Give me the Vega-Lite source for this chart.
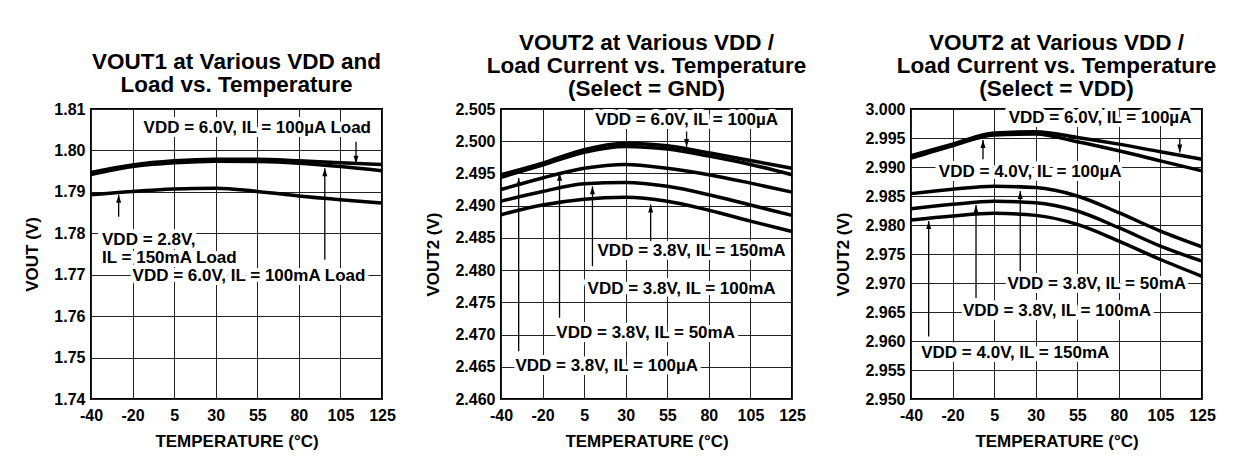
{
  "$schema": "https://vega.github.io/schema/vega-lite/v6.json",
  "padding": {"left": 22, "top": 30, "right": 10, "bottom": 10},
  "background": "white",
  "spacing": 119,
  "bounds": "flush",
  "config": {
    "font": "Liberation Sans",
    "view": {"stroke": "#000", "strokeWidth": 2},
    "axis": {"grid": true, "gridColor": "#222", "gridWidth": 1, "gridOpacity": 1, "domain": false, "ticks": false, "tickCount": 30,
      "labelFont": "Liberation Sans", "labelFontSize": 16, "labelFontWeight": "bold", "labelColor": "#000", "labelFlush": false, "labelOverlap": false,
      "titleFont": "Liberation Sans", "titleFontSize": 17, "titleFontWeight": "bold", "titleColor": "#000"},
    "axisX": {"labelPadding": 8, "titlePadding": 10},
    "axisY": {"labelPadding": 6, "titlePadding": 12},
    "title": {"font": "Liberation Sans", "fontSize": 22.5, "fontWeight": "bold", "color": "#000", "lineHeight": 23, "offset": 1, "anchor": "middle"},
    "text": {"font": "Liberation Sans", "fontSize": 17, "fontWeight": "bold"}
  },
  "datasets": {
    "p1_lines": [
      {"series": "A", "temp": -40, "v": 1.7947}, {"series": "A", "temp": -20, "v": 1.7965}, {"series": "A", "temp": 5, "v": 1.7975}, {"series": "A", "temp": 30, "v": 1.7979}, {"series": "A", "temp": 55, "v": 1.7979}, {"series": "A", "temp": 80, "v": 1.7975}, {"series": "A", "temp": 105, "v": 1.797}, {"series": "A", "temp": 125, "v": 1.7966},
      {"series": "B", "temp": -40, "v": 1.7942}, {"series": "B", "temp": -20, "v": 1.7961}, {"series": "B", "temp": 5, "v": 1.797}, {"series": "B", "temp": 30, "v": 1.7974}, {"series": "B", "temp": 55, "v": 1.7973}, {"series": "B", "temp": 80, "v": 1.7969}, {"series": "B", "temp": 105, "v": 1.7961}, {"series": "B", "temp": 125, "v": 1.7951},
      {"series": "C", "temp": -40, "v": 1.7893}, {"series": "C", "temp": -20, "v": 1.7901}, {"series": "C", "temp": 5, "v": 1.7907}, {"series": "C", "temp": 30, "v": 1.7909}, {"series": "C", "temp": 55, "v": 1.7901}, {"series": "C", "temp": 80, "v": 1.789}, {"series": "C", "temp": 105, "v": 1.7881}, {"series": "C", "temp": 125, "v": 1.7873}
    ],
    "p1_arrows": [
      {"temp": 112.5, "v": 1.8021, "v2": 1.7968, "dir": "down"},
      {"temp": -26.7, "v": 1.7840, "v2": 1.7893, "dir": "up"},
      {"temp": 95.6, "v": 1.7736, "v2": 1.7957, "dir": "up"}
    ],
    "p1_text": [
      {"temp": 55, "v": 1.8053, "label": "VDD = 6.0V, IL = 100µA Load", "align": "center"},
      {"temp": 50, "v": 1.7697, "label": "VDD = 6.0V, IL = 100mA Load", "align": "center"},
      {"temp": -34.7, "v": 1.7783, "label": "VDD = 2.8V,\nIL = 150mA Load", "align": "left"}
    ],
    "p2_lines": [
      {"series": "A", "temp": -40, "v": 2.4948}, {"series": "A", "temp": -20, "v": 2.4966}, {"series": "A", "temp": 5, "v": 2.4987}, {"series": "A", "temp": 30, "v": 2.4997}, {"series": "A", "temp": 55, "v": 2.4993}, {"series": "A", "temp": 80, "v": 2.4982}, {"series": "A", "temp": 105, "v": 2.497}, {"series": "A", "temp": 125, "v": 2.4958},
      {"series": "B", "temp": -40, "v": 2.4944}, {"series": "B", "temp": -20, "v": 2.4963}, {"series": "B", "temp": 5, "v": 2.4983}, {"series": "B", "temp": 30, "v": 2.4992}, {"series": "B", "temp": 55, "v": 2.4988}, {"series": "B", "temp": 80, "v": 2.4977}, {"series": "B", "temp": 105, "v": 2.4964}, {"series": "B", "temp": 125, "v": 2.4948},
      {"series": "C", "temp": -40, "v": 2.4925}, {"series": "C", "temp": -20, "v": 2.4943}, {"series": "C", "temp": 5, "v": 2.4958}, {"series": "C", "temp": 30, "v": 2.4964}, {"series": "C", "temp": 55, "v": 2.4958}, {"series": "C", "temp": 80, "v": 2.4948}, {"series": "C", "temp": 105, "v": 2.4935}, {"series": "C", "temp": 125, "v": 2.4921},
      {"series": "D", "temp": -40, "v": 2.4907}, {"series": "D", "temp": -20, "v": 2.4922}, {"series": "D", "temp": 5, "v": 2.4934}, {"series": "D", "temp": 30, "v": 2.4936}, {"series": "D", "temp": 55, "v": 2.493}, {"series": "D", "temp": 80, "v": 2.4917}, {"series": "D", "temp": 105, "v": 2.4901}, {"series": "D", "temp": 125, "v": 2.4885},
      {"series": "E", "temp": -40, "v": 2.4886}, {"series": "E", "temp": -20, "v": 2.4901}, {"series": "E", "temp": 5, "v": 2.491}, {"series": "E", "temp": 30, "v": 2.4913}, {"series": "E", "temp": 55, "v": 2.4907}, {"series": "E", "temp": 80, "v": 2.4893}, {"series": "E", "temp": 105, "v": 2.4876}, {"series": "E", "temp": 125, "v": 2.486}
    ],
    "p2_arrows": [
      {"temp": 66.6, "v": 2.5019, "v2": 2.4991, "dir": "down"},
      {"temp": 45, "v": 2.4845, "v2": 2.4902, "dir": "up"},
      {"temp": 10, "v": 2.4806, "v2": 2.493, "dir": "up"},
      {"temp": -9.8, "v": 2.4726, "v2": 2.4951, "dir": "up"},
      {"temp": -31.5, "v": 2.4674, "v2": 2.4943, "dir": "up"}
    ],
    "p2_text": [
      {"temp": 66.6, "v": 2.5033, "label": "VDD = 6.0V,  IL = 100µA"},
      {"temp": 69.6, "v": 2.4829, "label": "VDD = 3.8V, IL = 150mA"},
      {"temp": 63.6, "v": 2.477, "label": "VDD = 3.8V, IL = 100mA"},
      {"temp": 42, "v": 2.4703, "label": "VDD = 3.8V, IL = 50mA"},
      {"temp": 18.6, "v": 2.4651, "label": "VDD = 3.8V, IL = 100µA"}
    ],
    "p3_lines": [
      {"series": "A", "temp": -40, "v": 2.99193}, {"series": "A", "temp": -20, "v": 2.99394}, {"series": "A", "temp": 5, "v": 2.99585}, {"series": "A", "temp": 30, "v": 2.99608}, {"series": "A", "temp": 55, "v": 2.9951}, {"series": "A", "temp": 80, "v": 2.99394}, {"series": "A", "temp": 105, "v": 2.99262}, {"series": "A", "temp": 125, "v": 2.99135},
      {"series": "B", "temp": -40, "v": 2.99152}, {"series": "B", "temp": -20, "v": 2.99366}, {"series": "B", "temp": 5, "v": 2.9955}, {"series": "B", "temp": 30, "v": 2.99567}, {"series": "B", "temp": 55, "v": 2.99435}, {"series": "B", "temp": 80, "v": 2.99279}, {"series": "B", "temp": 105, "v": 2.99106}, {"series": "B", "temp": 125, "v": 2.98933},
      {"series": "C", "temp": -40, "v": 2.98541}, {"series": "C", "temp": -20, "v": 2.98616}, {"series": "C", "temp": 5, "v": 2.98668}, {"series": "C", "temp": 30, "v": 2.98645}, {"series": "C", "temp": 55, "v": 2.985}, {"series": "C", "temp": 80, "v": 2.98212}, {"series": "C", "temp": 105, "v": 2.97895}, {"series": "C", "temp": 125, "v": 2.97624},
      {"series": "D", "temp": -40, "v": 2.98281}, {"series": "D", "temp": -20, "v": 2.98356}, {"series": "D", "temp": 5, "v": 2.98408}, {"series": "D", "temp": 30, "v": 2.98385}, {"series": "D", "temp": 55, "v": 2.98241}, {"series": "D", "temp": 80, "v": 2.97953}, {"series": "D", "temp": 105, "v": 2.97636}, {"series": "D", "temp": 125, "v": 2.97376},
      {"series": "E", "temp": -40, "v": 2.98085}, {"series": "E", "temp": -20, "v": 2.98155}, {"series": "E", "temp": 5, "v": 2.98201}, {"series": "E", "temp": 30, "v": 2.98166}, {"series": "E", "temp": 55, "v": 2.9801}, {"series": "E", "temp": 80, "v": 2.97722}, {"series": "E", "temp": 105, "v": 2.97405}, {"series": "E", "temp": 125, "v": 2.97116}
    ],
    "p3_arrows": [
      {"temp": 114.3, "v": 2.99481, "v2": 2.9925, "dir": "down"},
      {"temp": -1.7, "v": 2.99135, "v2": 2.99464, "dir": "up"},
      {"temp": 20.7, "v": 2.97203, "v2": 2.98587, "dir": "up"},
      {"temp": -5.9, "v": 2.96741, "v2": 2.98345, "dir": "up"},
      {"temp": -31.5, "v": 2.96078, "v2": 2.98068, "dir": "up"}
    ],
    "p3_text": [
      {"temp": 68.7, "v": 2.99844, "label": "VDD = 6.0V,  IL = 100µA"},
      {"temp": 26.7, "v": 2.98916, "label": "VDD = 4.0V,  IL = 100µA"},
      {"temp": 66.7, "v": 2.9699, "label": "VDD = 3.8V, IL = 50mA"},
      {"temp": 42.8, "v": 2.96511, "label": "VDD = 3.8V, IL = 100mA"},
      {"temp": 17.7, "v": 2.9579, "label": "VDD = 4.0V, IL = 150mA"}
    ]
  },
  "hconcat": [
    {
      "width": 291, "height": 290,
      "title": {"text": ["VOUT1 at Various VDD and", "Load vs. Temperature"], "offset": 5},
      "layer": [
        {"data": {"name": "p1_lines"},
         "mark": {"type": "line", "interpolate": "monotone", "strokeWidth": 3.5, "color": "#000"},
         "encoding": {
           "x": {"field": "temp", "type": "quantitative", "scale": {"domain": [-40, -20, 5, 30, 55, 80, 105, 125], "range": [0, 41.57, 83.14, 124.71, 166.29, 207.86, 249.43, 291], "nice": false, "zero": false},
                 "axis": {"values": [-40, -20, 5, 30, 55, 80, 105, 125], "labelExpr": "'' + datum.value", "title": "TEMPERATURE (°C)"}},
           "y": {"field": "v", "type": "quantitative", "scale": {"domain": [1.74, 1.81], "nice": false, "zero": false},
                 "axis": {"values": [1.74, 1.75, 1.76, 1.77, 1.78, 1.79, 1.8, 1.81], "format": ".2f", "title": "VOUT (V)"}},
           "detail": {"field": "series"}}},
        {"data": {"name": "p1_arrows"}, "mark": {"type": "rule", "color": "#000", "strokeWidth": 1.3},
         "encoding": {"x": {"field": "temp", "type": "quantitative"}, "y": {"field": "v", "type": "quantitative"}, "y2": {"field": "v2"}}},
        {"data": {"name": "p1_arrows"}, "transform": [{"filter": "datum.dir == 'up'"}],
         "mark": {"type": "point", "shape": "M0,0L-0.5,1.6L0.5,1.6Z", "filled": true, "color": "#000", "opacity": 1, "size": 100},
         "encoding": {"x": {"field": "temp", "type": "quantitative"}, "y": {"field": "v2", "type": "quantitative"}}},
        {"data": {"name": "p1_arrows"}, "transform": [{"filter": "datum.dir == 'down'"}],
         "mark": {"type": "point", "shape": "M0,0L-0.5,-1.6L0.5,-1.6Z", "filled": true, "color": "#000", "opacity": 1, "size": 100},
         "encoding": {"x": {"field": "temp", "type": "quantitative"}, "y": {"field": "v2", "type": "quantitative"}}},
        {"data": {"name": "p1_text"}, "transform": [{"filter": "datum.align == 'center'"}],
         "mark": {"type": "text", "stroke": "#fff", "strokeWidth": 8, "strokeJoin": "round", "color": "#fff", "align": "center", "baseline": "middle"},
         "encoding": {"x": {"field": "temp", "type": "quantitative"}, "y": {"field": "v", "type": "quantitative"}, "text": {"field": "label"}}},
        {"data": {"name": "p1_text"}, "transform": [{"filter": "datum.align == 'center'"}],
         "mark": {"type": "text", "color": "#000", "align": "center", "baseline": "middle"},
         "encoding": {"x": {"field": "temp", "type": "quantitative"}, "y": {"field": "v", "type": "quantitative"}, "text": {"field": "label"}}},
        {"data": {"name": "p1_text"}, "transform": [{"filter": "datum.align == 'left'"}],
         "mark": {"type": "text", "stroke": "#fff", "strokeWidth": 8, "strokeJoin": "round", "color": "#fff", "align": "left", "baseline": "middle", "lineBreak": "\n", "lineHeight": 18},
         "encoding": {"x": {"field": "temp", "type": "quantitative"}, "y": {"field": "v", "type": "quantitative"}, "text": {"field": "label"}}},
        {"data": {"name": "p1_text"}, "transform": [{"filter": "datum.align == 'left'"}],
         "mark": {"type": "text", "color": "#000", "align": "left", "baseline": "middle", "lineBreak": "\n", "lineHeight": 18},
         "encoding": {"x": {"field": "temp", "type": "quantitative"}, "y": {"field": "v", "type": "quantitative"}, "text": {"field": "label"}}}
      ]
    },
    {
      "width": 291, "height": 290,
      "title": {"text": ["VOUT2 at Various VDD /", "Load Current vs. Temperature", "(Select = GND)"]},
      "layer": [
        {"data": {"name": "p2_lines"},
         "mark": {"type": "line", "interpolate": "monotone", "strokeWidth": 3.5, "color": "#000"},
         "encoding": {
           "x": {"field": "temp", "type": "quantitative", "scale": {"domain": [-40, -20, 5, 30, 55, 80, 105, 125], "range": [0, 41.57, 83.14, 124.71, 166.29, 207.86, 249.43, 291], "nice": false, "zero": false},
                 "axis": {"values": [-40, -20, 5, 30, 55, 80, 105, 125], "labelExpr": "'' + datum.value", "title": "TEMPERATURE (°C)"}},
           "y": {"field": "v", "type": "quantitative", "scale": {"domain": [2.46, 2.505], "nice": false, "zero": false},
                 "axis": {"values": [2.46, 2.465, 2.47, 2.475, 2.48, 2.485, 2.49, 2.495, 2.5, 2.505], "format": ".3f", "title": "VOUT2 (V)"}},
           "detail": {"field": "series"}}},
        {"data": {"name": "p2_arrows"}, "mark": {"type": "rule", "color": "#000", "strokeWidth": 1.3},
         "encoding": {"x": {"field": "temp", "type": "quantitative"}, "y": {"field": "v", "type": "quantitative"}, "y2": {"field": "v2"}}},
        {"data": {"name": "p2_arrows"}, "transform": [{"filter": "datum.dir == 'up'"}],
         "mark": {"type": "point", "shape": "M0,0L-0.5,1.6L0.5,1.6Z", "filled": true, "color": "#000", "opacity": 1, "size": 100},
         "encoding": {"x": {"field": "temp", "type": "quantitative"}, "y": {"field": "v2", "type": "quantitative"}}},
        {"data": {"name": "p2_arrows"}, "transform": [{"filter": "datum.dir == 'down'"}],
         "mark": {"type": "point", "shape": "M0,0L-0.5,-1.6L0.5,-1.6Z", "filled": true, "color": "#000", "opacity": 1, "size": 100},
         "encoding": {"x": {"field": "temp", "type": "quantitative"}, "y": {"field": "v2", "type": "quantitative"}}},
        {"data": {"name": "p2_text"},
         "mark": {"type": "text", "stroke": "#fff", "strokeWidth": 8, "strokeJoin": "round", "color": "#fff", "align": "center", "baseline": "middle"},
         "encoding": {"x": {"field": "temp", "type": "quantitative"}, "y": {"field": "v", "type": "quantitative"}, "text": {"field": "label"}}},
        {"data": {"name": "p2_text"},
         "mark": {"type": "text", "color": "#000", "align": "center", "baseline": "middle"},
         "encoding": {"x": {"field": "temp", "type": "quantitative"}, "y": {"field": "v", "type": "quantitative"}, "text": {"field": "label"}}}
      ]
    },
    {
      "width": 291, "height": 290,
      "title": {"text": ["VOUT2 at Various VDD /", "Load Current vs. Temperature", "(Select = VDD)"]},
      "layer": [
        {"data": {"name": "p3_lines"},
         "mark": {"type": "line", "interpolate": "monotone", "strokeWidth": 3.5, "color": "#000"},
         "encoding": {
           "x": {"field": "temp", "type": "quantitative", "scale": {"domain": [-40, -20, 5, 30, 55, 80, 105, 125], "range": [0, 41.57, 83.14, 124.71, 166.29, 207.86, 249.43, 291], "nice": false, "zero": false},
                 "axis": {"values": [-40, -20, 5, 30, 55, 80, 105, 125], "labelExpr": "'' + datum.value", "title": "TEMPERATURE (°C)"}},
           "y": {"field": "v", "type": "quantitative", "scale": {"domain": [2.95, 3.0], "nice": false, "zero": false},
                 "axis": {"values": [2.95, 2.955, 2.96, 2.965, 2.97, 2.975, 2.98, 2.985, 2.99, 2.995, 3.0], "format": ".3f", "title": "VOUT2 (V)"}},
           "detail": {"field": "series"}}},
        {"data": {"name": "p3_arrows"}, "mark": {"type": "rule", "color": "#000", "strokeWidth": 1.3},
         "encoding": {"x": {"field": "temp", "type": "quantitative"}, "y": {"field": "v", "type": "quantitative"}, "y2": {"field": "v2"}}},
        {"data": {"name": "p3_arrows"}, "transform": [{"filter": "datum.dir == 'up'"}],
         "mark": {"type": "point", "shape": "M0,0L-0.5,1.6L0.5,1.6Z", "filled": true, "color": "#000", "opacity": 1, "size": 100},
         "encoding": {"x": {"field": "temp", "type": "quantitative"}, "y": {"field": "v2", "type": "quantitative"}}},
        {"data": {"name": "p3_arrows"}, "transform": [{"filter": "datum.dir == 'down'"}],
         "mark": {"type": "point", "shape": "M0,0L-0.5,-1.6L0.5,-1.6Z", "filled": true, "color": "#000", "opacity": 1, "size": 100},
         "encoding": {"x": {"field": "temp", "type": "quantitative"}, "y": {"field": "v2", "type": "quantitative"}}},
        {"data": {"name": "p3_text"},
         "mark": {"type": "text", "stroke": "#fff", "strokeWidth": 8, "strokeJoin": "round", "color": "#fff", "align": "center", "baseline": "middle"},
         "encoding": {"x": {"field": "temp", "type": "quantitative"}, "y": {"field": "v", "type": "quantitative"}, "text": {"field": "label"}}},
        {"data": {"name": "p3_text"},
         "mark": {"type": "text", "color": "#000", "align": "center", "baseline": "middle"},
         "encoding": {"x": {"field": "temp", "type": "quantitative"}, "y": {"field": "v", "type": "quantitative"}, "text": {"field": "label"}}}
      ]
    }
  ]
}
